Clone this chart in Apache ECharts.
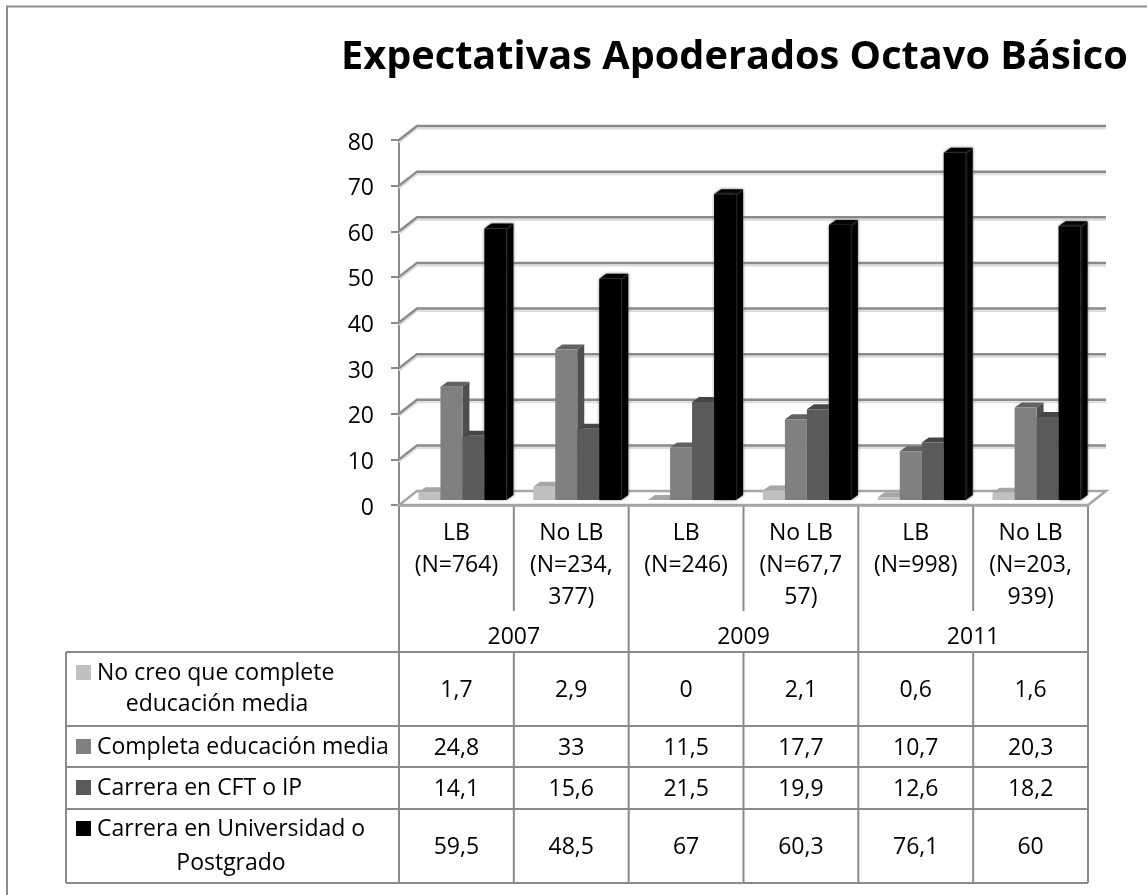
<!DOCTYPE html>
<html>
<head>
<meta charset="utf-8">
<style>
  html, body { margin: 0; padding: 0; background: #fff; }
  #chart { width: 1147px; height: 895px; }
</style>
<script src="https://cdn.jsdelivr.net/npm/echarts@6/dist/echarts.min.js"></script>
</head>
<body>
<div id="chart"></div>
<script>
const categories = ['LB\n(N=764)', 'No LB\n(N=234,\n377)', 'LB\n(N=246)', 'No LB\n(N=67,7\n57)', 'LB\n(N=998)', 'No LB\n(N=203,\n939)'];
const years = ['2007', '2009', '2011'];
const yTicks = [0, 10, 20, 30, 40, 50, 60, 70, 80];

const noCompleta = [1.7, 2.9, 0, 2.1, 0.6, 1.6];
const completaMedia = [24.8, 33, 11.5, 17.7, 10.7, 20.3];
const carreraCft = [14.1, 15.6, 21.5, 19.9, 12.6, 18.2];
const carreraUniv = [59.5, 48.5, 67, 60.3, 76.1, 60];

const rows = [
  { name: 'No creo que complete educación media', values: noCompleta, face: '#c0c0c0', side: '#8e8e8e', top: '#a6a6a6' },
  { name: 'Completa educación media', values: completaMedia, face: '#808080', side: '#4e4e4e', top: '#626262' },
  { name: 'Carrera en CFT o IP', values: carreraCft, face: '#5a5a5a', side: '#3c3c3c', top: '#454545' },
  { name: 'Carrera en Universidad o Postgrado', values: carreraUniv, face: '#000000', side: '#000000', top: '#000000' }
];

const FONT = '"Open Sans"';
const LEFT = 399, RIGHT = 1088, TOP = 140, BOTTOM = 505;
const COL = (RIGHT - LEFT) / 6;
// depth of the fake 3d walls and of the bars
const WALL_DX = 18, WALL_DY = -14;
const BAR_W = 22, BAR_DX = 7, BAR_DY = -5;

const LINE = '#8a8a8a';

function renderWall(params, api) {
  const v = api.value(1);
  const sys = params.coordSys;
  const y = api.coord([0, v])[1];
  const x0 = sys.x, x1 = sys.x + sys.width;
  const children = [];
  if (v === 0) {
    // floor of the chart
    children.push({
      type: 'polygon',
      shape: { points: [[x0, y], [x0 + WALL_DX, y + WALL_DY], [x1 + WALL_DX, y + WALL_DY], [x1, y]] },
      style: { fill: '#ffffff', stroke: '#a6a6a6', lineWidth: 2.5 }
    });
    return { type: 'group', children: children };
  }
  children.push({
    type: 'polyline',
    shape: { points: [[x0, y + 2.5], [x0 + WALL_DX, y + WALL_DY + 2.5], [x1 + WALL_DX, y + WALL_DY + 2.5]] },
    style: { fill: null, stroke: '#dcdcdc', lineWidth: 2 }
  });
  children.push({
    type: 'polyline',
    shape: { points: [[x0, y], [x0 + WALL_DX, y + WALL_DY], [x1 + WALL_DX, y + WALL_DY]] },
    style: { fill: null, stroke: LINE, lineWidth: 2.5 }
  });
  return { type: 'group', children: children };
}

function makeRenderBar(rowIndex) {
  const row = rows[rowIndex];
  return function (params, api) {
    const top = api.coord([api.value(0), api.value(1)]);
    const base = api.coord([api.value(0), 0]);
    const shift = (rowIndex - 2) * BAR_W + 6;
    const xl = top[0] + shift;
    const xr = xl + BAR_W;
    const yt = top[1] - 5;
    const yb = base[1] - 5;
    const glow = rowIndex === 3 ? { shadowBlur: 3, shadowColor: '#666666' } : {};
    return {
      type: 'group',
      children: [
        {
          type: 'polygon',
          shape: { points: [[xr, yt], [xr + BAR_DX, yt + BAR_DY], [xr + BAR_DX, yb + BAR_DY], [xr, yb]] },
          style: Object.assign({ fill: row.side }, glow)
        },
        {
          type: 'polygon',
          shape: { points: [[xl, yt], [xl + BAR_DX, yt + BAR_DY], [xr + BAR_DX, yt + BAR_DY], [xr, yt]] },
          style: Object.assign({ fill: row.top }, glow)
        },
        {
          type: 'rect',
          shape: { x: xl, y: yt, width: BAR_W, height: yb - yt },
          style: Object.assign({ fill: row.face }, glow)
        }
      ]
    };
  };
}

// data table under the plot
const rowLines = [652, 726, 767, 809, 883];
const TABLE_LEFT = 66;
const legendText = [
  [{ t: 'No creo que complete', x: 97, y: 672, align: 'left' }, { t: 'educación media', x: 217, y: 703, align: 'center' }],
  [{ t: 'Completa educación media', x: 97, y: 746, align: 'left' }],
  [{ t: 'Carrera en CFT o IP', x: 97, y: 787, align: 'left' }],
  [{ t: 'Carrera en Universidad o', x: 97, y: 828, align: 'left' }, { t: 'Postgrado', x: 231, y: 862, align: 'center' }]
];
const swatchY = [665, 739, 780, 821];
const valueY = [689, 747, 788, 846];

function vline(x, y1, y2) {
  return { type: 'line', shape: { x1: x, y1: y1, x2: x, y2: y2 }, style: { stroke: LINE, lineWidth: 2 } };
}
function hline(x1, x2, y) {
  return { type: 'line', shape: { x1: x1, y1: y, x2: x2, y2: y }, style: { stroke: LINE, lineWidth: 2 } };
}
function cellText(t, x, y, align) {
  return { type: 'text', x: x, y: y + 1, style: { text: t, x: 0, y: 0, fill: '#000', font: '23px ' + FONT, textAlign: align, textVerticalAlign: 'middle' } };
}

const graphics = [];
// chart frame
graphics.push({ type: 'polyline', shape: { points: [[7, 895], [7, 6.5], [1147, 6.5]] }, style: { fill: null, stroke: '#8c8c8c', lineWidth: 2 } });
// column lines
for (let i = 0; i <= 6; i++) {
  const x = LEFT + i * COL;
  const longLine = i % 2 === 0;
  graphics.push(vline(x, BOTTOM, longLine ? rowLines[0] : 611));
  graphics.push(vline(x, rowLines[0], rowLines[4]));
}
graphics.push(vline(TABLE_LEFT, rowLines[0], rowLines[4]));
rowLines.forEach(function (y) {
  graphics.push(hline(TABLE_LEFT, RIGHT, y));
});
years.forEach(function (y, i) {
  graphics.push(cellText(y, LEFT + (i * 2 + 1) * COL, 636, 'center'));
});
rows.forEach(function (row, r) {
  graphics.push({ type: 'rect', shape: { x: 76, y: swatchY[r], width: 15, height: 15 }, style: { fill: row.face } });
  legendText[r].forEach(function (l) {
    graphics.push(cellText(l.t, l.x, l.y, l.align));
  });
  row.values.forEach(function (v, c) {
    graphics.push(cellText(String(v).replace('.', ','), LEFT + (c + 0.5) * COL, valueY[r], 'center'));
  });
});

const chart = echarts.init(document.getElementById('chart'), null, { renderer: 'canvas' });
chart.setOption({
  animation: false,
  backgroundColor: '#ffffff',
  textStyle: { fontFamily: 'Open Sans' },
  title: {
    text: 'Expectativas Apoderados Octavo Básico',
    left: 336,
    top: 33,
    textStyle: { fontFamily: 'Open Sans', fontWeight: 'bold', fontSize: 39.7, color: '#000' }
  },
  grid: { left: LEFT, top: TOP, width: RIGHT - LEFT, height: BOTTOM - TOP },
  xAxis: {
    type: 'category',
    data: categories,
    axisLine: { show: true, lineStyle: { color: '#a6a6a6', width: 2.5 } },
    axisTick: { show: false },
    axisLabel: { interval: 0, margin: 12, fontFamily: 'Open Sans', fontSize: 23, lineHeight: 32, color: '#000', hideOverlap: false, verticalAlign: 'top' }
  },
  yAxis: {
    type: 'value',
    min: 0,
    max: 80,
    interval: 10,
    splitLine: { show: false },
    axisLine: { show: true, lineStyle: { color: LINE, width: 2 } },
    axisTick: { show: true, length: 8, lineStyle: { color: LINE, width: 2 } },
    axisLabel: {
      margin: 25,
      formatter: function (v) { return '{t|' + v + '}'; },
      rich: { t: { fontFamily: 'Open Sans', fontSize: 23, color: '#000', padding: [6, 0, 0, 0] } }
    }
  },
  graphic: { elements: graphics },
  series: [
    {
      type: 'custom',
      name: 'wall',
      silent: true,
      renderItem: renderWall,
      encode: { x: 0, y: 1 },
      data: yTicks.map(function (v) { return [0, v]; }),
      z: 1
    }
  ].concat(rows.map(function (row, r) {
    return {
      type: 'custom',
      name: row.name,
      renderItem: makeRenderBar(r),
      encode: { x: 0, y: 1 },
      data: row.values.map(function (v, i) { return [i, v]; }),
      z: 2 + r
    };
  }))
});
</script>
</body>
</html>
